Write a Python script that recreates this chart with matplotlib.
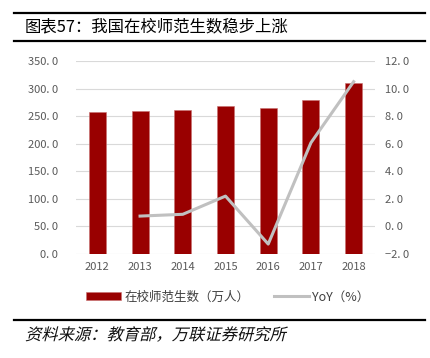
import numpy as np
import matplotlib.pyplot as plt
from matplotlib.lines import Line2D
from matplotlib.textpath import TextPath
from matplotlib.patches import PathPatch
from matplotlib.font_manager import FontProperties
from matplotlib.transforms import Affine2D, IdentityTransform

plt.rcParams['font.family'] = ['Noto Sans CJK SC', 'DejaVu Sans']

years = ['2012', '2013', '2014', '2015', '2016', '2017', '2018']
students = [257, 259, 261.5, 267.5, 264, 280, 310]
yoy = [np.nan, 0.75, 0.88, 2.2, -1.28, 6.07, 10.5]

left_ticks = [0, 50, 100, 150, 200, 250, 300, 350]
right_ticks = [-2, 0, 2, 4, 6, 8, 10, 12]

bar_color = '#990000'
line_color = '#c0c0c0'
tick_color = '#595959'

W, H = 430, 358
fig = plt.figure(figsize=(W / 100, H / 100), dpi=100)

# title with rules
fig.add_artist(Line2D([14/W, 425/W], [1 - 13/H, 1 - 13/H], color='black', lw=1.6))
fig.add_artist(Line2D([14/W, 425/W], [1 - 41/H, 1 - 41/H], color='black', lw=1.6))
fig.text(25/W, 1 - 27/H, '图表57：我国在校师范生数稳步上涨', fontsize=11.8,
         va='center', ha='left', color='black', fontweight='light')

ax = fig.add_axes([76/W, 1 - 254/H, 299/W, 193/H])
x = np.arange(len(years))
ax.bar(x, students, width=0.4, color=bar_color, edgecolor='#c87070', linewidth=0.4,
       zorder=2, label='在校师范生数（万人）')
ax.set_xlim(-0.5, 6.5)
ax.set_ylim(0, 350)
ax.set_yticks(left_ticks)
ax.set_yticklabels(['%d. 0' % v for v in left_ticks])
ax.set_xticks(x)
ax.set_xticklabels(years)
ax.grid(axis='y', color='#d9d9d9', lw=0.8, zorder=0)
ax.set_axisbelow(True)
for s in ax.spines.values():
    s.set_visible(False)
ax.tick_params(axis='y', length=0, labelsize=8, colors=tick_color, pad=13)
ax.tick_params(axis='x', length=0, labelsize=8, colors=tick_color, pad=6)

ax2 = ax.twinx()
ax2.plot(x, yoy, color=line_color, lw=2.2, zorder=3, label='YoY（%）')
ax2.set_ylim(-2, 12)
ax2.set_yticks(right_ticks)
ax2.set_yticklabels(['%d. 0' % v if v >= 0 else '−%d. 0' % -v for v in right_ticks])
for s in ax2.spines.values():
    s.set_visible(False)
ax2.tick_params(length=0, labelsize=8, colors=tick_color, pad=7.5)

h1, l1 = ax.get_legend_handles_labels()
h2, l2 = ax2.get_legend_handles_labels()
fig.legend(h1 + h2, l1 + l2, loc='center', bbox_to_anchor=(0.53, 1 - 297/H),
           ncol=2, frameon=False, fontsize=9, handlelength=2.8, handleheight=0.6,
           columnspacing=1.9, handletextpad=0.3, labelcolor='#404040')

# source with rule, slanted like the original
fig.add_artist(Line2D([14/W, 425/W], [1 - 320/H, 1 - 320/H], color='black', lw=1.6))
src = TextPath((0, 0), '资料来源：教育部，万联证券研究所', size=16.3,
               prop=FontProperties(family='Noto Sans CJK SC', weight='light'))
tr = Affine2D().skew_deg(14, 0).translate(25, H - 340)
fig.add_artist(PathPatch(tr.transform_path(src), transform=IdentityTransform(),
                         facecolor='#111111', edgecolor='none'))

fig.savefig('out.png', dpi=100)
